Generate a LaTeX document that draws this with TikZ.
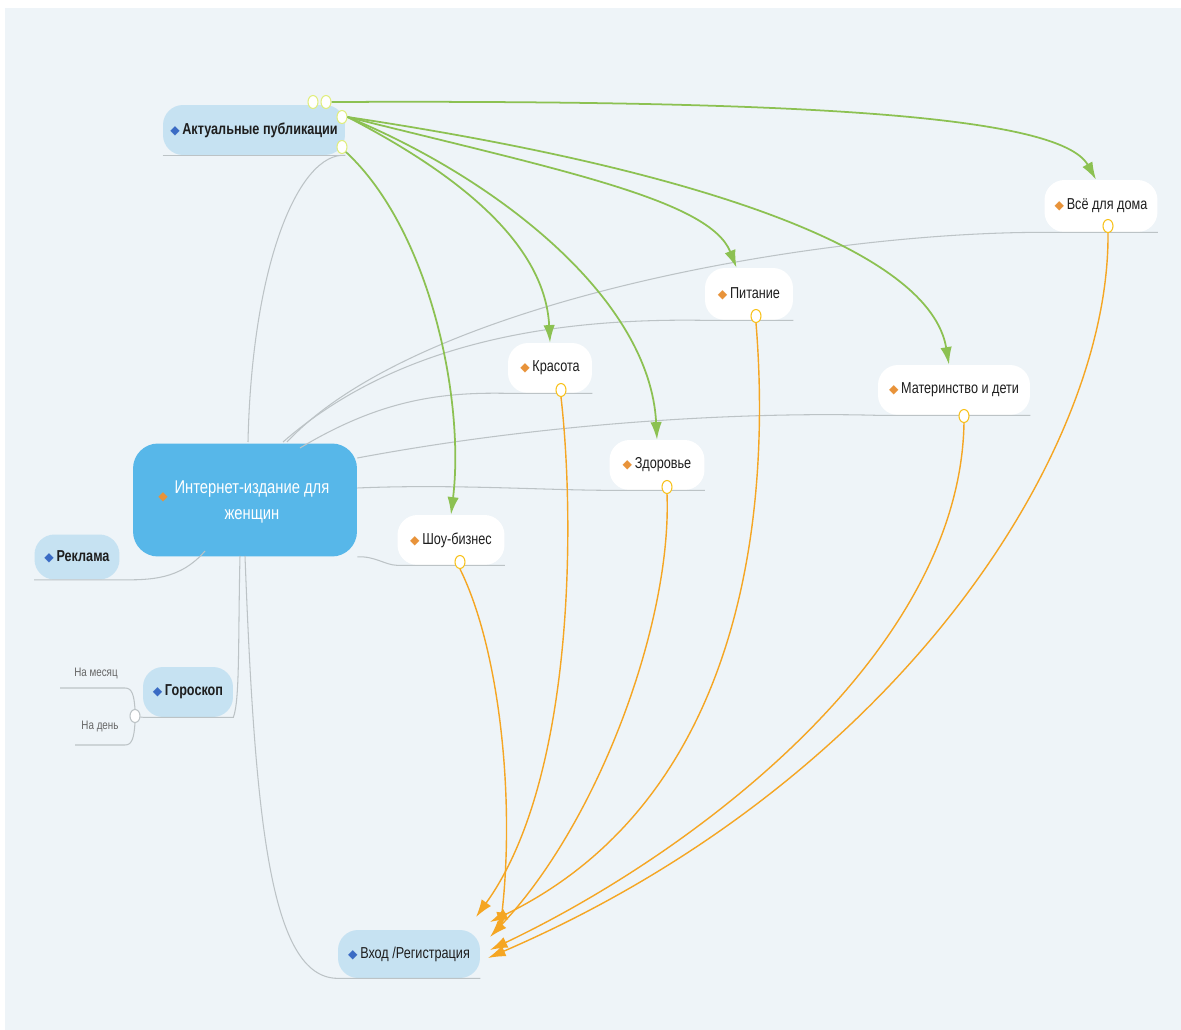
\documentclass[tikz,border=0pt]{standalone}
\usepackage{fontspec}
\setmainfont{Liberation Sans}[FakeStretch=0.8]
\newfontfamily\sym{DejaVu Sans}
\usepackage{tikz}
\usetikzlibrary{arrows.meta, shapes.geometric, positioning}

\definecolor{bgblue}{HTML}{EEF4F8}
\definecolor{topicfill}{HTML}{C6E2F2}
\definecolor{mainfill}{HTML}{57B7E9}
\definecolor{linkgray}{HTML}{BCC3C6}
\definecolor{relgreen}{HTML}{8CC152}
\definecolor{relorange}{HTML}{F5A623}
\definecolor{markblue}{HTML}{3A6BC4}
\definecolor{markorange}{HTML}{E8933A}
\definecolor{textdark}{HTML}{1E1E1E}

\newcommand{\bmark}{{\sym\color{markblue}\scriptsize ◆}\,}
\newcommand{\omark}{{\sym\color{markorange}\scriptsize ◆}\,}

\tikzset{
  topic/.style={fill=topicfill, rounded corners=0.4cm, font=\fontsize{9}{11}\selectfont\bfseries,
    text=textdark, minimum height=1cm, inner sep=2pt},
  subtopic/.style={fill=white, rounded corners=0.4cm, font=\fontsize{9}{11}\selectfont,
    text=textdark, minimum height=1cm, inner sep=2pt},
  leaf/.style={font=\fontsize{7}{8}\selectfont, text=black!60, inner sep=1pt},
  link/.style={draw=linkgray, line width=0.6pt},
  relg/.style={draw=relgreen, line width=1pt, -{Latex[length=10pt,width=6.5pt]}},
  relo/.style={draw=relorange, line width=0.8pt, -{Latex[length=10pt,width=6.5pt]}},
  jointg/.style={ellipse, draw=relgreen!45!yellow!60, fill=white, line width=0.6pt,
    minimum width=0.2cm, minimum height=0.26cm, inner sep=0pt},
  jointo/.style={ellipse, draw=relorange!70!yellow, fill=white, line width=0.6pt,
    minimum width=0.2cm, minimum height=0.26cm, inner sep=0pt},
}

\begin{document}
\begin{tikzpicture}[x=0.02cm, y=-0.02cm]
  \useasboundingbox (0,0) rectangle (1181,1030);
  \fill[white] (0,0) rectangle (1181,1030);
  \fill[bgblue] (5,8) rectangle (1181,1030);

  % main topic and branches
  \node[fill=mainfill, rounded corners=0.5cm, minimum width=4.48cm, minimum height=2.26cm] (main) at (245,500) {};
  \node[text=white, font=\fontsize{10.5}{15}\selectfont, align=center] (maintext) at (252,502)
    {Интернет-издание для\\женщин};
  \node[font=\sym\scriptsize, text=markorange] (mainicon) at (163,497) {◆};
  \node[topic, minimum width=3.64cm] (akt) at (254,130) {\bmark Актуальные публикации};
  \node[topic, minimum width=1.7cm, minimum height=0.9cm] (reklama) at (77,557) {\bmark Реклама};
  \node[topic, minimum width=1.8cm] (goroskop) at (188,692) {\bmark Гороскоп};
  \node[topic, minimum width=2.84cm, minimum height=0.96cm, font=\fontsize{9}{11}\selectfont] (vhod) at (409,954) {\bmark Вход /Регистрация};

  \node[leaf] (mesyac) at (96,673) {На месяц};
  \node[leaf] (den) at (100,726) {На день};

  % sub topics
  \node[subtopic, minimum width=2.14cm] (shou) at (451,540) {\omark Шоу-бизнес};
  \node[subtopic, minimum width=1.68cm] (krasota) at (550,368) {\omark Красота};
  \node[subtopic, minimum width=1.9cm] (zdorovie) at (657,465) {\omark Здоровье};
  \node[subtopic, minimum width=1.76cm, minimum height=1.04cm] (pitanie) at (749,294) {\omark Питание};
  \node[subtopic, minimum width=3.04cm] (materin) at (954,390) {\omark Материнство и дети};
  \node[subtopic, minimum width=2.26cm, minimum height=1.04cm] (dom) at (1101,206) {\omark Всё для дома};

  % grey tree lines
  \draw[link] (248,442) .. controls (252,260) and (300,152) .. (akt.south east);
  \draw[link] (akt.south west) -- (akt.south east);
  \draw[link] (287,442) .. controls (420,300) and (820,232) .. (dom.south west) -- (dom.south east);
  \draw[link] (283,442) .. controls (400,340) and (560,318) .. (pitanie.south west) -- (pitanie.south east);
  \draw[link] (300,448) .. controls (380,400) and (440,392) .. (krasota.south west) -- (krasota.south east);
  \draw[link] (main.east |- 0,458) .. controls (560,420) and (760,412) .. (materin.south west) -- (materin.south east);
  \draw[link] (main.east |- 0,488) .. controls (450,484) and (540,490) .. (zdorovie.south west) -- (zdorovie.south east);
  \draw[link] (main.south east) .. controls (375,556) and (385,565) .. (shou.south west) -- (shou.south east);
  \draw[link] (205,551) .. controls (180,580) and (150,580) .. (reklama.south east) -- (reklama.south west);
  \draw[link] (240,556) .. controls (238,640) and (240,700) .. (goroskop.south east) -- (goroskop.south west);
  \draw[link] (245,556) .. controls (255,820) and (270,978) .. (vhod.south west) -- (vhod.south east);

  \node[jointo, draw=linkgray] (hjoint) at (135,716) {};
  \draw[link] (hjoint) -- (goroskop.south west);
  \draw[link] (hjoint.north) .. controls (134,695) and (132,688) .. (125,688) -- (60,688);
  \draw[link] (hjoint.south) .. controls (134,738) and (132,745) .. (125,745) -- (75,745);

  % green relations
  \node[jointg] (ga) at (313,102) {};
  \node[jointg] (gb) at (326,102) {};
  \node[jointg] (gc) at (342,117) {};
  \node[jointg] (gd) at (342,147) {};
  \draw[relg] (gb.east) .. controls (800,100) and (1060,115) .. ([xshift=-0.1cm]dom.north);
  \draw[relg] (gc.east) .. controls (700,170) and (930,250) .. ([xshift=-0.1cm]materin.north);
  \draw[relg] (gc.east) .. controls (560,170) and (710,200) .. ([xshift=-0.25cm]pitanie.north);
  \draw[relg] (gc.east) .. controls (500,180) and (650,300) .. (zdorovie.north);
  \draw[relg] (gc.east) .. controls (450,170) and (545,240) .. (krasota.north);
  \draw[relg] (gd.south east) .. controls (430,230) and (465,400) .. (shou.north);

  % orange relations
  \node[jointo] (os) at (460,562) {};
  \node[jointo] (ok) at (561,390) {};
  \node[jointo] (oz) at (667,487) {};
  \node[jointo] (op) at (756,316) {};
  \node[jointo] (om) at (964,416) {};
  \node[jointo] (od) at (1108,226) {};
  \coordinate (t1) at (476,917);
  \coordinate (t2) at (490,922);
  \coordinate (t3) at (490,937);
  \coordinate (t4) at (490,950);
  \coordinate (t5) at (488,958);
  \coordinate (t6) at (500,930);
  \draw[relo] (os.south) .. controls (500,650) and (515,800) .. (t6);
  \draw[relo] (ok.south) .. controls (575,520) and (575,780) .. (t1);
  \draw[relo] (oz.south) .. controls (672,620) and (600,820) .. (t3);
  \draw[relo] (op.south) .. controls (772,520) and (740,800) .. (t2);
  \draw[relo] (om.south) .. controls (960,650) and (700,850) .. (t4);
  \draw[relo] (od.south) .. controls (1110,450) and (900,780) .. (t5);
\end{tikzpicture}
\end{document}
